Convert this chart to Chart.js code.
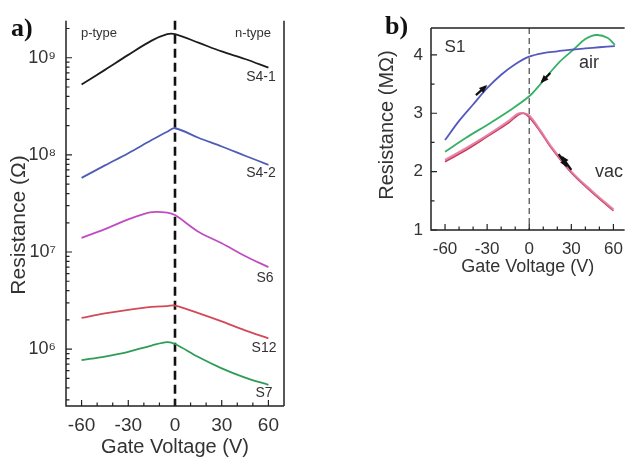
<!DOCTYPE html>
<html>
<head>
<meta charset="utf-8">
<script src="https://cdn.jsdelivr.net/npm/chart.js@4/dist/chart.umd.min.js"></script>
<style>
  html, body { margin: 0; padding: 0; background: #fff; overflow: hidden; }
  #wrap { position: relative; width: 632px; height: 459px; }
  #chartA { position: absolute; left: 0; top: 0; }
  #chartB { position: absolute; left: 340px; top: 0; }
</style>
</head>
<body>
<div id="wrap">
  <canvas id="chartA" width="300" height="459"></canvas>
  <canvas id="chartB" width="292" height="290"></canvas>
</div>
<script>
// ---- panel a: resistance vs gate voltage, log scale ----
const voltA = [-60, -45, -30, -15, -5, 0, 15, 30, 45, 60];
const resS41 = [5.3e8, 7.5e8, 1.07e9, 1.5e9, 1.75e9, 1.75e9, 1.43e9, 1.16e9, 9.7e8, 7.9e8];
const resS42 = [5.8e7, 7.8e7, 1.04e8, 1.42e8, 1.73e8, 1.88e8, 1.5e8, 1.22e8, 9.8e7, 7.9e7];
const resS6  = [1.4e7, 1.72e7, 2.17e7, 2.57e7, 2.55e7, 2.4e7, 1.62e7, 1.23e7, 9.1e6, 7.0e6];
const resS12 = [2.1e6, 2.33e6, 2.54e6, 2.72e6, 2.78e6, 2.81e6, 2.35e6, 1.93e6, 1.56e6, 1.29e6];
const resS7  = [7.7e5, 8.4e5, 9.4e5, 1.09e6, 1.18e6, 1.13e6, 8.3e5, 6.35e5, 5.1e5, 4.3e5];
const xTicksA = [-60, -30, 0, 30, 60];
const yTicksA = [1e6, 1e7, 1e8, 1e9];
const yLabelsA = ['10\u2076', '10\u2077', '10\u2078', '10\u2079'];

// ---- panel b: sample S1 in air and vacuum ----
const voltAirUp = [-60, -50, -40, -30, -20, -10, 0, 10, 20, 30, 40, 50, 61];
const resAirUp  = [2.54, 2.87, 3.15, 3.43, 3.66, 3.84, 3.97, 4.03, 4.06, 4.09, 4.11, 4.13, 4.15];
const voltAirDown = [61, 56, 48, 40, 32, 22, 15, 8, 0, -15, -30, -45, -60];
const resAirDown  = [4.17, 4.29, 4.34, 4.27, 4.1, 3.89, 3.7, 3.5, 3.29, 3.03, 2.8, 2.58, 2.34];
const voltVac = [-60, -45, -30, -15, -8, -4, 0, 8, 15, 30, 45, 60];
const resVacUp   = [2.17, 2.37, 2.6, 2.83, 2.97, 3.0, 2.93, 2.68, 2.43, 1.98, 1.64, 1.33];
const resVacDown = [2.2, 2.4, 2.62, 2.86, 2.99, 3.0, 2.96, 2.7, 2.45, 2.0, 1.66, 1.35];
const xTicksB = [-60, -30, 0, 30, 60];
const yTicksB = [1, 2, 3, 4];

Chart.defaults.font.family = '"Liberation Sans", Arial, sans-serif';
Chart.defaults.color = '#333';

const pts = (xs, ys) => xs.map((x, i) => ({ x: x, y: ys[i] }));

function curve(xs, ys, color, width) {
  return {
    data: pts(xs, ys),
    borderColor: color,
    borderWidth: width || 1.8,
    pointRadius: 0,
    tension: 0.35,
    fill: false
  };
}

// draws frame, inward ticks, zero line, labels and arrows
function decorPlugin(opt) {
  return {
    id: 'decor',
    beforeDatasetsDraw(chart) {
      const { ctx, chartArea: a, scales } = chart;
      const x0 = scales.x.getPixelForValue(0);
      ctx.save();
      ctx.strokeStyle = opt.zeroColor;
      ctx.lineWidth = opt.zeroWidth;
      ctx.setLineDash(opt.zeroDash);
      ctx.beginPath();
      ctx.moveTo(x0, a.top);
      ctx.lineTo(x0, a.bottom);
      ctx.stroke();
      ctx.restore();
    },
    afterDraw(chart) {
      const { ctx, chartArea: a, scales } = chart;
      ctx.save();
      ctx.strokeStyle = '#222';
      ctx.lineWidth = 1.5;
      ctx.beginPath();
      ctx.moveTo(a.left, a.top);
      ctx.lineTo(a.left, a.bottom);
      ctx.lineTo(a.right, a.bottom);
      if (opt.rightLine) {
        ctx.moveTo(a.right, a.top);
        ctx.lineTo(a.right, a.bottom);
      }
      if (opt.topLine) {
        ctx.moveTo(a.left, a.top);
        ctx.lineTo(a.right, a.top);
      }
      ctx.stroke();

      // x ticks pointing up
      ctx.lineWidth = 1.2;
      ctx.beginPath();
      for (let v = -60; v <= 60; v += 10) {
        const px = scales.x.getPixelForValue(v);
        const len = v % 30 === 0 ? 6 : 3.5;
        ctx.moveTo(px, a.bottom);
        ctx.lineTo(px, a.bottom - len);
      }
      // y ticks pointing right
      opt.yMinor().forEach(t => {
        const py = scales.y.getPixelForValue(t.v);
        if (py < a.top || py > a.bottom) return;
        ctx.moveTo(a.left, py);
        ctx.lineTo(a.left + (t.major ? 6 : 3.5), py);
      });
      ctx.stroke();

      // arrows
      (opt.arrows || []).forEach(ar => {
        const x1 = scales.x.getPixelForValue(ar.from[0]), y1 = scales.y.getPixelForValue(ar.from[1]);
        const x2 = scales.x.getPixelForValue(ar.to[0]), y2 = scales.y.getPixelForValue(ar.to[1]);
        const ang = Math.atan2(y2 - y1, x2 - x1);
        ctx.strokeStyle = '#111';
        ctx.fillStyle = '#111';
        ctx.lineWidth = 2.2;
        ctx.beginPath();
        ctx.moveTo(x1, y1);
        ctx.lineTo(x2, y2);
        ctx.stroke();
        ctx.beginPath();
        ctx.moveTo(x2 + 2 * Math.cos(ang), y2 + 2 * Math.sin(ang));
        ctx.lineTo(x2 - 7 * Math.cos(ang - 0.5), y2 - 7 * Math.sin(ang - 0.5));
        ctx.lineTo(x2 - 7 * Math.cos(ang + 0.5), y2 - 7 * Math.sin(ang + 0.5));
        ctx.closePath();
        ctx.fill();
      });

      // text labels
      opt.texts.forEach(t => {
        ctx.save();
        ctx.font = t.font;
        ctx.fillStyle = t.color || '#333';
        ctx.textAlign = t.align || 'center';
        ctx.textBaseline = 'middle';
        ctx.translate(t.x, t.y);
        if (t.rotate) ctx.rotate(-Math.PI / 2);
        ctx.fillText(t.text, 0, 0);
        ctx.restore();
      });
      ctx.restore();
    }
  };
}

// ---------- chart a ----------
new Chart(document.getElementById('chartA'), {
  type: 'line',
  data: {
    datasets: [
      curve(voltA, resS41, '#1c1c1c'),
      curve(voltA, resS42, '#4f5cb5'),
      curve(voltA, resS6, '#c04cc2'),
      curve(voltA, resS12, '#d24a57'),
      curve(voltA, resS7, '#2f9c57')
    ]
  },
  options: {
    responsive: false,
    animation: false,
    layout: { padding: { left: 0, right: 16, top: 15, bottom: 0 } },
    plugins: { legend: { display: false }, tooltip: { enabled: false } },
    scales: {
      x: {
        type: 'linear', min: -70, max: 70,
        afterBuildTicks: s => { s.ticks = xTicksA.map(v => ({ value: v })); },
        afterFit: s => { s.height = 53; },
        grid: { display: false, drawTicks: false },
        border: { display: false },
        ticks: { padding: 8, font: { size: 19 }, color: '#333' },
        title: { display: true, text: 'Gate Voltage (V)', font: { size: 20 }, color: '#333', padding: { top: 0, bottom: 0 } }
      },
      y: {
        type: 'logarithmic', min: 2.6e5, max: 2.4e9,
        afterBuildTicks: s => { s.ticks = yTicksA.map(v => ({ value: v })); },
        afterFit: s => { s.width = 66; },
        grid: { display: false, drawTicks: false },
        border: { display: false },
        ticks: { padding: 10, font: { size: 18 }, color: '#333', callback: (v, i) => yLabelsA[i] }
      }
    }
  },
  plugins: [decorPlugin({
    zeroColor: '#111', zeroWidth: 2.6, zeroDash: [9, 5],
    rightLine: true, topLine: false,
    yMinor: () => {
      const out = [];
      for (let d = 5; d <= 9; d++) {
        for (let m = 1; m <= 9; m++) out.push({ v: m * Math.pow(10, d), major: m === 1 });
      }
      return out;
    },
    texts: [
      { text: 'Resistance (\u03A9)', x: 19, y: 225, font: '21px "Liberation Sans", sans-serif', rotate: true },
      { text: 'a)', x: 11, y: 29, font: 'bold 26px "Liberation Serif", serif', align: 'left', color: '#111' },
      { text: 'p-type', x: 99, y: 33, font: '13px "Liberation Sans", sans-serif' },
      { text: 'n-type', x: 253, y: 33, font: '13px "Liberation Sans", sans-serif' },
      { text: 'S4-1', x: 261, y: 77, font: '14px "Liberation Sans", sans-serif' },
      { text: 'S4-2', x: 261, y: 173, font: '14px "Liberation Sans", sans-serif' },
      { text: 'S6', x: 265, y: 278, font: '14px "Liberation Sans", sans-serif' },
      { text: 'S12', x: 264, y: 348, font: '14px "Liberation Sans", sans-serif' },
      { text: 'S7', x: 264, y: 393, font: '14px "Liberation Sans", sans-serif' }
    ]
  })]
});

// ---------- chart b ----------
new Chart(document.getElementById('chartB'), {
  type: 'line',
  data: {
    datasets: [
      curve(voltVac, resVacDown, 'rgba(226,120,160,0.9)', 2.2),
      curve(voltVac, resVacUp, '#c8304f', 1.6),
      curve(voltAirUp, resAirUp, '#5459bd'),
      curve(voltAirDown, resAirDown, '#35b066')
    ]
  },
  options: {
    responsive: false,
    animation: false,
    layout: { padding: { left: 0, right: 2, top: 28, bottom: 0 } },
    plugins: { legend: { display: false }, tooltip: { enabled: false } },
    scales: {
      x: {
        type: 'linear', min: -70, max: 68,
        afterBuildTicks: s => { s.ticks = xTicksB.map(v => ({ value: v })); },
        afterFit: s => { s.height = 60; },
        grid: { display: false, drawTicks: false },
        border: { display: false },
        ticks: { padding: 9, font: { size: 17 }, color: '#333' },
        title: { display: true, text: 'Gate Voltage (V)', font: { size: 18 }, color: '#333', padding: { top: 0, bottom: 12 } }
      },
      y: {
        type: 'linear', min: 1, max: 4.46,
        afterBuildTicks: s => { s.ticks = yTicksB.map(v => ({ value: v })); },
        afterFit: s => { s.width = 91; },
        grid: { display: false, drawTicks: false },
        border: { display: false },
        ticks: { padding: 8, font: { size: 17 }, color: '#333' }
      }
    }
  },
  plugins: [decorPlugin({
    zeroColor: '#555', zeroWidth: 1.3, zeroDash: [6, 4],
    rightLine: false, topLine: true,
    yMinor: () => [1, 1.5, 2, 2.5, 3, 3.5, 4].map(v => ({ v: v, major: v % 1 === 0 })),
    arrows: [
      { from: [-38, 3.31], to: [-31, 3.46] },
      { from: [15, 3.69], to: [9, 3.54] },
      { from: [21, 2.3], to: [26.5, 2.1] },
      { from: [30, 2.03], to: [23.5, 2.25] }
    ],
    texts: [
      { text: 'Resistance (M\u03A9)', x: 47, y: 125, font: '20px "Liberation Sans", sans-serif', rotate: true },
      { text: 'b)', x: 45, y: 27, font: 'bold 26px "Liberation Serif", serif', align: 'left', color: '#111' },
      { text: 'S1', x: 115, y: 47, font: '17px "Liberation Sans", sans-serif' },
      { text: 'air', x: 249, y: 63, font: '18px "Liberation Sans", sans-serif' },
      { text: 'vac', x: 269, y: 172, font: '18px "Liberation Sans", sans-serif' }
    ]
  })]
});
</script>
</body>
</html>
